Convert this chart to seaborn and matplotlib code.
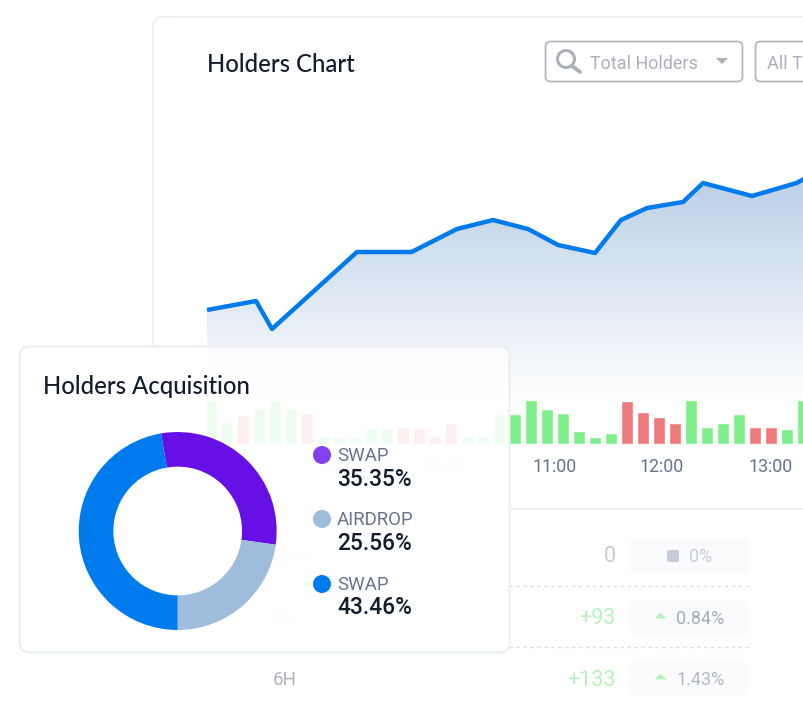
import numpy as np
import matplotlib
matplotlib.use('Agg')
import matplotlib.pyplot as plt
import seaborn as sns
from matplotlib.colors import LinearSegmentedColormap
from matplotlib.patches import Circle, FancyBboxPatch, Polygon, Rectangle

# Holders line, x in bar slots
line_slots = [-0.31, 2.75, 3.75, 9.06, 12.47, 15.31, 17.56, 19.75, 21.63, 23.94,
              25.56, 27.19, 29.44, 30.69, 33.75, 36.53, 37.0]
line_holders = [91, 100, 72, 149, 149, 172, 181, 172, 156, 148,
                181, 193, 199, 218, 205, 218, 222]

# Volume bars
bar_volume = [44, 22, 29, 36, 44, 36, 31, 8, 7, 7, 16, 16, 17, 16, 8, 21, 8, 8, 30,
              30, 44, 35, 31, 13, 7, 11, 43, 32, 27, 21, 44, 17, 21, 30, 17, 17, 15, 44]
bar_side = ['up', 'up', 'down', 'up', 'up', 'up', 'down', 'up', 'up', 'up', 'up', 'up',
            'down', 'down', 'down', 'down', 'up', 'up', 'up',
            'up', 'up', 'up', 'up', 'up', 'up', 'up', 'down', 'down', 'down', 'down',
            'up', 'up', 'up', 'up', 'down', 'down', 'up', 'up']
tick_slots = [7.8, 14.6, 21.4, 28.1, 34.9]
tick_labels = ['09:00', '10:00', '11:00', '12:00', '13:00']
tick_colors = ['#f1f2f5', '#eceef1', '#697391', '#697391', '#697391']

# Donut
pie_names = ['SWAP', 'AIRDROP', 'SWAP']
pie_labels = ['35.35%', '25.56%', '43.46%']
pie_shares = [29.9, 22.8, 47.3]
pie_colors = ['#6610e6', '#9fbcdd', '#007bee']
dot_colors = ['#8440ee', '#9fbcdd', '#007bee']

# Table rows
row_names = ['30M', '1H', '6H']
row_change = ['0', '+93', '+133']
row_pct = ['0%', '0.84%', '1.43%']

sans = 'Roboto'
sns.set_theme(style='white')
plt.rcParams['font.family'] = [sans, 'DejaVu Sans']

fig = plt.figure(figsize=(8.04, 7.07), dpi=100, facecolor='white')


def box(l, t, w, h):
    return [l / 804, 1 - (t + h) / 707, w / 804, h / 707]


# page layer in pixel units
bg = fig.add_axes([0, 0, 1, 1], zorder=0)
bg.set_xlim(0, 804)
bg.set_ylim(707, 0)
bg.axis('off')
frame = FancyBboxPatch((153, 17), 800, 800, boxstyle='round,pad=0,rounding_size=10',
                       fc='white', ec='#eef1f5', lw=1.5)
bg.add_patch(frame)
frame.set_clip_path(Rectangle((0, 0), 804, 347, transform=bg.transData))
bg.plot([509, 804], [509, 509], color='#edf1f5', lw=1.2)
bg.text(207, 64.5, 'Holders Chart', family='Lato', fontsize=17.2, fontweight='medium',
        color='#131c2e', va='center')

# dropdowns
bg.add_patch(FancyBboxPatch((545.5, 41.5), 197, 40, boxstyle='round,pad=0,rounding_size=5',
                            fc='white', ec='#b3b8c0', lw=1.3))
bg.add_patch(FancyBboxPatch((755.5, 41.5), 100, 40, boxstyle='round,pad=0,rounding_size=5',
                            fc='white', ec='#b3b8c0', lw=1.3))
bg.add_patch(Circle((566, 59), 8.5, fc='none', ec='#abb0b9', lw=2.2))
bg.plot([572, 580], [66, 72], color='#abb0b9', lw=2.8, solid_capstyle='round')
bg.text(590, 64, 'Total Holders', fontsize=13, color='#abb0b9', va='center')
bg.add_patch(Polygon([[716, 58], [728, 58], [722, 64]], fc='#abb0b9', ec='none'))
bg.text(767, 64, 'All Types', fontsize=13, color='#abb0b9', va='center', clip_on=True)

# table under the card
for y in [586, 647]:
    bg.plot([509, 749], [y, y], color='#dcdfe4', lw=1, dashes=(2.5, 2.5))
for y, name, ch, pct, pct_x, ch_col, pct_col, name_col in zip(
        [556, 618, 679], row_names, row_change, row_pct, [689, 676.5, 677],
        ['#c8ccd6', '#b7f2bd', '#b7f2bd'], ['#c9cdd7', '#a7acb6', '#b5b9c2'],
        ['#e4e6ea', '#e4e6ea', '#adb1ba']):
    bg.add_patch(FancyBboxPatch((629, y - 16.5), 120, 33, boxstyle='round,pad=0,rounding_size=5',
                                fc='#fafbfc', ec='none'))
    bg.text(273, y + 1, name, fontsize=13.5, color=name_col, va='center')
    bg.text(616, y + 1, ch, fontsize=15.5, color=ch_col, va='center', ha='right')
    bg.text(pct_x, y + 1, pct, fontsize=13, color=pct_col, va='center')
    if ch == '0':
        bg.add_patch(FancyBboxPatch((667, y - 6), 12, 12, boxstyle='round,pad=0,rounding_size=2',
                                    fc='#c8ccd6', ec='none'))
    else:
        bg.add_patch(Polygon([[654.5, y + 0.5], [666.5, y + 0.5], [660.5, y - 5.5]], fc='#b7f2bd', ec='none'))

# line chart
ax_line = fig.add_axes(box(204, 171, 600, 230), zorder=1)
ax_line.patch.set_alpha(0)
sns.lineplot(x=line_slots, y=line_holders, ax=ax_line, color='#007bee', lw=3.2, zorder=3,
             solid_capstyle='butt')
ax_line.set_xlim(-0.5, 37)
ax_line.set_ylim(0, 230)
ax_line.axis('off')
fade = LinearSegmentedColormap.from_list('fade', ['#ffffff', '#b9cee6'])
grad = ax_line.imshow(np.linspace(1, 0, 200).reshape(-1, 1), cmap=fade, vmin=0, vmax=1, aspect='auto',
                      extent=(-0.5, 37, 0, 230), zorder=1)
area = ax_line.fill_between(line_slots, line_holders, 0, color='none')
grad.set_clip_path(area.get_paths()[0], transform=ax_line.transData)
ax_line.set_xlim(-0.5, 37)
ax_line.set_ylim(0, 230)

# volume bars
ax_bar = fig.add_axes(box(203, 396, 601, 48), zorder=2)
ax_bar.patch.set_alpha(0)
sns.barplot(x=list(range(len(bar_volume))), y=bar_volume, hue=bar_side,
            palette={'up': '#7eef8b', 'down': '#ed7b7b'}, native_scale=True, dodge=False,
            width=0.75, legend=False, ax=ax_bar, saturation=1)
ax_bar.set_xlim(-0.5, 37.06)
ax_bar.set_ylim(0, 48)
ax_bar.axis('off')

ax_top = fig.add_axes([0, 0, 1, 1], zorder=3)
ax_top.patch.set_alpha(0)
ax_top.set_xlim(0, 804)
ax_top.set_ylim(707, 0)
ax_top.axis('off')
for s, lab, col in zip(tick_slots, tick_labels, tick_colors):
    ax_top.text(212 + s * 16, 466.5, lab, fontsize=12.8, color=col, ha='center', va='center')

# floating card
ax_top.add_patch(FancyBboxPatch((19.5, 346.5), 490, 306, boxstyle='round,pad=0,rounding_size=10',
                                fc=(1, 1, 1, 0.88), ec='#e9eef3', lw=1.4, zorder=4))
ax_top.text(43, 386, 'Holders Acquisition', family='Lato', fontsize=17.2, fontweight='medium',
            color='#131c2e', va='center', zorder=5)
for y, name, lab, col in zip([455, 519, 584], pie_names, pie_labels, dot_colors):
    ax_top.add_patch(Circle((322, y), 9, fc=col, ec='none', zorder=5))
    ax_top.text(337, y + 1, name, fontsize=13.4, color='#697391', va='center', zorder=5)
    ax_top.text(337, y + 24, lab, fontsize=16.4, fontweight='medium', color='#131c2e',
                va='center', zorder=5)

# donut
ax_pie = fig.add_axes(box(78.7, 432, 198, 198), zorder=5)
ax_pie.pie(pie_shares, colors=pie_colors, startangle=99.7, counterclock=False, radius=1,
           wedgeprops={'width': 0.35, 'lw': 0})
ax_pie.set_xlim(-1, 1)
ax_pie.set_ylim(-1, 1)

fig.savefig('out.png', dpi=100)
